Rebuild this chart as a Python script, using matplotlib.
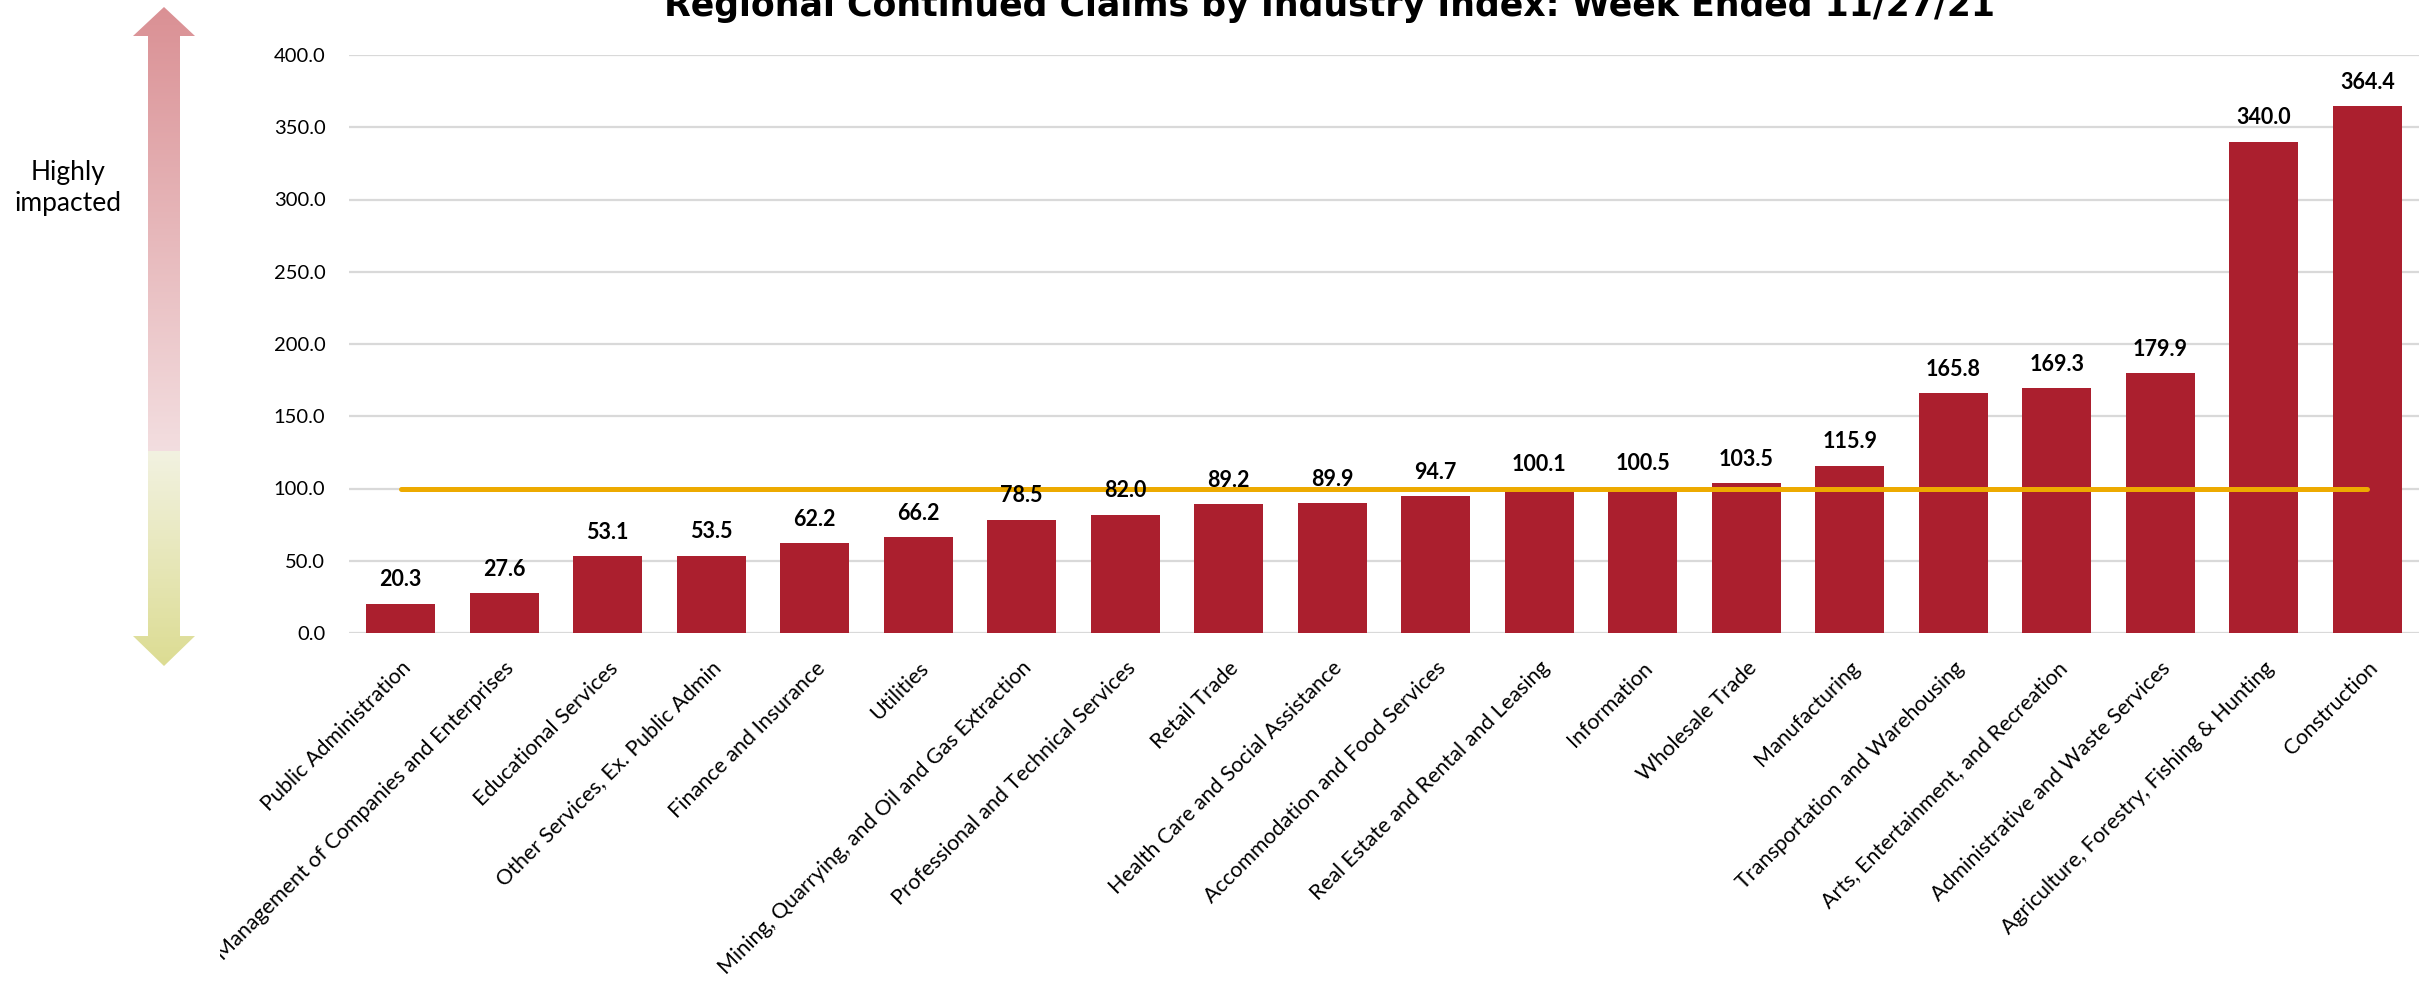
import numpy as np
import matplotlib
matplotlib.use('Agg')
import matplotlib.pyplot as plt
from matplotlib.patches import Polygon
from matplotlib.transforms import ScaledTranslation, Bbox, TransformedBbox

# data
industries = ['Public Administration', 'Management of Companies and Enterprises',
              'Educational Services', 'Other Services, Ex. Public Admin',
              'Finance and Insurance', 'Utilities',
              'Mining, Quarrying, and Oil and Gas Extraction',
              'Professional and Technical Services', 'Retail Trade',
              'Health Care and Social Assistance', 'Accommodation and Food Services',
              'Real Estate and Rental and Leasing', 'Information', 'Wholesale Trade',
              'Manufacturing', 'Transportation and Warehousing',
              'Arts, Entertainment, and Recreation', 'Administrative and Waste Services',
              'Agriculture, Forestry, Fishing & Hunting', 'Construction']
index_values = [20.3, 27.6, 53.1, 53.5, 62.2, 66.2, 78.5, 82.0, 89.2, 89.9,
                94.7, 100.1, 100.5, 103.5, 115.9, 165.8, 169.3, 179.9, 340.0, 364.4]
baseline_value = 100
yticks = [0, 50, 100, 150, 200, 250, 300, 350, 400]
title = 'Regional Continued Claims by Industry Index: Week Ended 11/27/21'

W, H = 2433, 982
fig = plt.figure(figsize=(W / 100, H / 100), dpi=100)

# main chart
ax = fig.add_axes([349 / W, 1 - 633 / H, 2070 / W, 578 / H])
x = np.arange(len(industries))
ax.bar(x, index_values, width=0.667, color='#AB1F2E', zorder=2)
ax.plot([x[0], x[-1]], [baseline_value, baseline_value], color='#EDAA00',
        lw=3.6, solid_capstyle='round', zorder=3)

for xi, v in zip(x, index_values):
    ax.annotate('{:.1f}'.format(v), (xi, v), xytext=(0, 12.5), textcoords='offset points',
                ha='center', va='baseline', fontsize=15.5, fontweight='bold',
                family='Lato', color='black', zorder=4)

ax.set_xlim(-0.5, len(industries) - 0.5)
ax.set_ylim(0, 400)
ax.set_yticks(yticks)
ax.set_yticklabels(['{:.1f}'.format(t) for t in yticks], family='Lato', fontsize=14.5)
ax.yaxis.grid(True, color='#D9D9D9', lw=1.6, zorder=0)
ax.set_axisbelow(True)
for s in ax.spines.values():
    s.set_visible(False)
ax.tick_params(axis='y', length=0, pad=17)
ax.tick_params(axis='x', length=0, pad=23)

ax.set_xticks(x)
ax.set_xticklabels(industries, rotation=45, ha='right', va='center',
                   rotation_mode='anchor', family='Lato', fontsize=15.5)
# labels are clipped at the left edge of the chart area, like the original
clip = TransformedBbox(Bbox([[220 / W, 0], [1, 1]]), fig.transFigure)
for lbl in ax.get_xticklabels():
    lbl.set_transform(lbl.get_transform() + ScaledTranslation(0.07, 0, fig.dpi_scale_trans))
    lbl.set_clip_box(clip)
    lbl.set_clip_on(True)

fig.text(1330 / W, 1 - 16 / H, title, ha='center', va='baseline', fontsize=25,
         fontweight='bold', family='DejaVu Sans')

# left gradient arrow (pixel coordinates of the figure)
ov = fig.add_axes([0, 0, 1, 1])
ov.set_xlim(0, W)
ov.set_ylim(H, 0)
ov.axis('off')
ov.patch.set_alpha(0)

arrow_pts = [(164, 7), (195, 36), (180, 36), (180, 636), (195, 636), (164, 666),
             (133, 636), (148, 636), (148, 36), (133, 36)]
poly = Polygon(arrow_pts, closed=True, facecolor='none', edgecolor='none')
ov.add_patch(poly)

y_top, y_mid, y_bot = 7, 451, 666
ys = np.arange(y_top, y_bot)
pink_a = np.array([218, 144, 148]) / 255
pink_b = np.array([243, 222, 224]) / 255
green_a = np.array([242, 242, 225]) / 255
green_b = np.array([220, 220, 146]) / 255
cols = np.zeros((len(ys), 1, 3))
for i, yy in enumerate(ys):
    if yy < y_mid:
        t = (yy - y_top) / (y_mid - y_top)
        cols[i, 0] = pink_a + (pink_b - pink_a) * t
    else:
        t = (yy - y_mid) / (y_bot - y_mid)
        cols[i, 0] = green_a + (green_b - green_a) * t
img = ov.imshow(cols, extent=[133, 195, y_bot, y_top], aspect='auto',
                interpolation='bilinear')
img.set_clip_path(poly)
ov.set_xlim(0, W)
ov.set_ylim(H, 0)

ov.text(68, 188, 'Highly\nimpacted', ha='center', va='center', fontsize=19,
        family='Lato', linespacing=1.3)

fig.savefig('out.png', dpi=100)
